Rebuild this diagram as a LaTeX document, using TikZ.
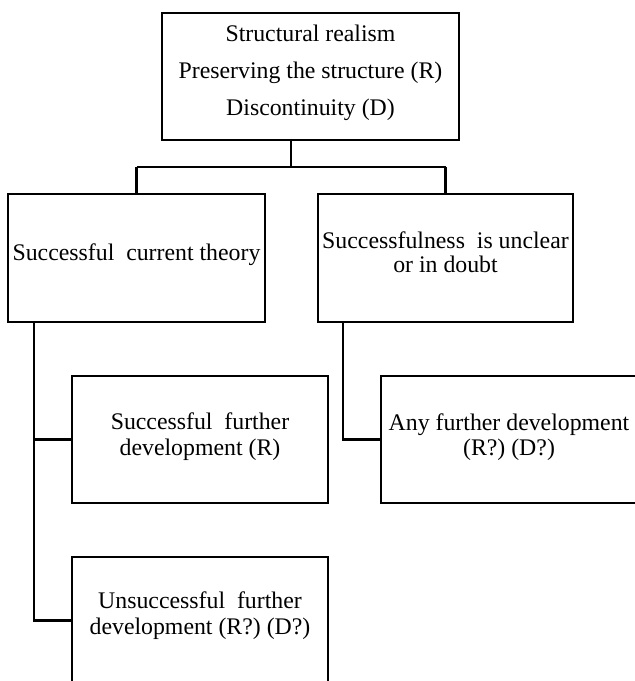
\documentclass[tikz,border=0pt]{standalone}
\usepackage{fontspec}
\setmainfont{Liberation Serif}
\begin{document}
\begin{tikzpicture}[x=1pt,y=-1pt,
  box/.style={draw=black, line width=2.7pt, rectangle, outer sep=0pt, inner sep=0pt},
  conn/.style={draw=black, line width=2.7pt},
  lbl/.style={anchor=base, inner sep=0pt, font=\fontsize{23.8}{27}\selectfont}]
\useasboundingbox (0,0) rectangle (635,681);

% boxes
\node[box, minimum width=297pt, minimum height=127pt] (top) at (310.5,76.5) {};
\node[box, minimum width=257pt, minimum height=128pt] (cur) at (136.5,258) {};
\node[box, minimum width=255pt, minimum height=128pt] (unc) at (445.5,258) {};
\node[box, minimum width=256pt, minimum height=127pt] (sfd) at (200,439.5) {};
\node[box, minimum width=256pt, minimum height=127pt] (ufd) at (200,620.5) {};
\node[box, minimum width=256pt, minimum height=127pt] (afd) at (509,439.5) {};

% texts
\node[lbl] (t1) at (310.5,41) {Structural realism};
\node[lbl] (t2) at (310.5,78) {Preserving the structure (R)};
\node[lbl] (t3) at (310.5,115) {Discontinuity (D)};
\node[lbl] (c1) at (136.5,260) {Successful\ \ current theory};
\node[lbl] (u1) at (445.5,248) {Successfulness\ \ is unclear};
\node[lbl] (u2) at (445.5,272) {or in doubt};
\node[lbl] (s1) at (200,429) {Successful\ \ further};
\node[lbl] (s2) at (200,455) {development (R)};
\node[lbl] (a1) at (509,430) {Any further development};
\node[lbl] (a2) at (509,455) {(R?) (D?)};
\node[lbl] (n1) at (200,608) {Unsuccessful\ \ further};
\node[lbl] (n2) at (200,634) {development (R?) (D?)};

% connectors
\coordinate (busM) at (291,167);
\coordinate (busL) at (136.5,167);
\coordinate (busR) at (445.5,167);
\coordinate (trL) at (34,620.5);
\coordinate (trR) at (343,439.5);

\draw[conn] (busM |- top.south) -- (busM);
\draw[conn] (busL) -- (busR);
\draw[conn] (busL) -- (cur.north);
\draw[conn] (busR) -- (unc.north);
\draw[conn] (trL |- cur.south) -- (trL) -- (ufd.west);
\draw[conn] (trL |- sfd.west) -- (sfd.west);
\draw[conn] (trR |- unc.south) -- (trR) -- (afd.west);
\end{tikzpicture}
\end{document}
